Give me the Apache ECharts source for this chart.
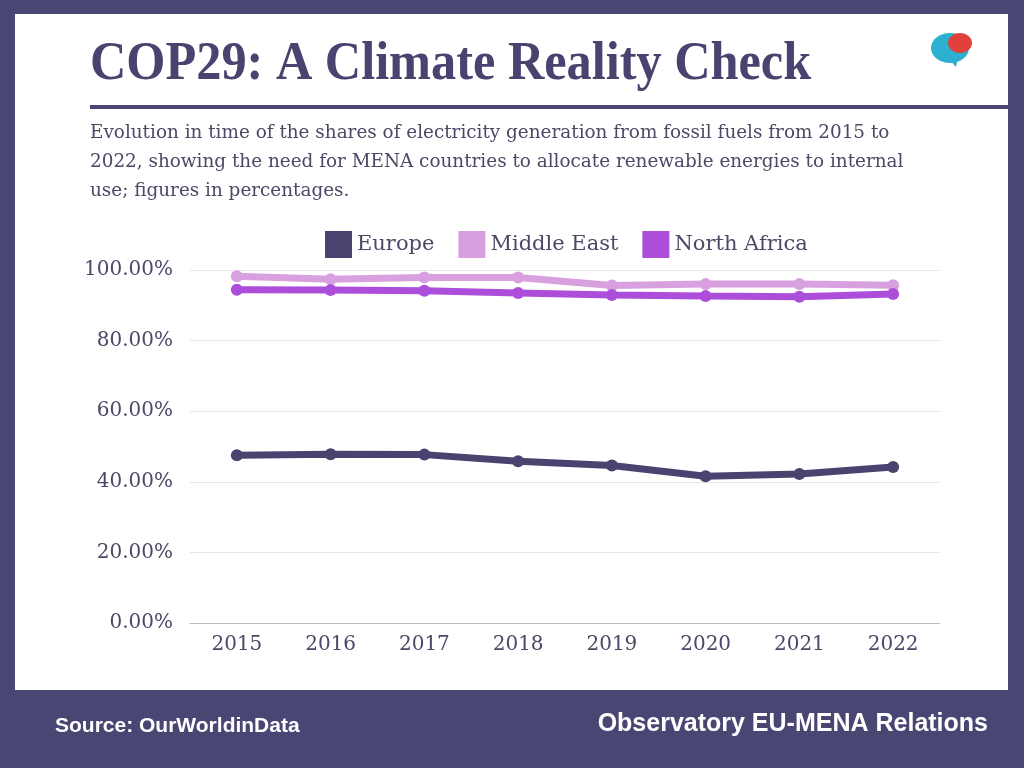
<!DOCTYPE html>
<html><head><meta charset="utf-8">
<script src="https://cdn.jsdelivr.net/npm/echarts@6/dist/echarts.min.js"></script>
<style>html,body{margin:0;padding:0;background:#4a4673;}#c{width:1024px;height:768px;}</style>
</head><body><div id="c"></div>
<script>
const years = ['2015','2016','2017','2018','2019','2020','2021','2022'];
const europe = [47.5, 47.8, 47.7, 45.8, 44.6, 41.6, 42.2, 44.2];
const middleEast = [98.2, 97.4, 97.9, 97.9, 95.6, 96.0, 96.0, 95.7];
const northAfrica = [94.4, 94.3, 94.1, 93.5, 92.9, 92.6, 92.4, 93.2];
const seriesNames = ['Europe', 'Middle East', 'North Africa'];
const colors = ['#48436f', '#d9a0e0', '#ad4edb'];

const chart = echarts.init(document.getElementById('c'));
const serif = '"Liberation Serif", serif';
const dserif = '"DejaVu Serif", serif';
const textGray = '#4b4965';
function mk(name, data, color) {
  return {
    name, type: 'line', data, color,
    symbol: 'circle', symbolSize: 12,
    lineStyle: { width: 7, color },
    itemStyle: { color },
    z: 3
  };
}
chart.setOption({
  backgroundColor: '#4a4673',
  animation: false,
  graphic: [
    { type: 'rect', shape: { x: 15, y: 14, width: 993, height: 676 }, style: { fill: '#ffffff' }, z: -10 },
    { type: 'rect', shape: { x: 90, y: 105, width: 918, height: 4 }, style: { fill: '#4a4673' } },
    { type: 'text', x: 90, y: 37, scaleX: 0.915, style: { text: 'COP29: A Climate Reality Check', font: 'bold 55px ' + serif, fill: '#48436f' } },
    { type: 'text', x: 90, y: 119, style: { text: 'Evolution in time of the shares of electricity generation from fossil fuels from 2015 to\n2022, showing the need for MENA countries to allocate renewable energies to internal\nuse; figures in percentages.', font: '18.4px ' + dserif, fill: textGray, lineHeight: 29 } },
    { type: 'ellipse', shape: { cx: 950, cy: 48, rx: 19, ry: 15 }, style: { fill: '#2bb0cf' } },
    { type: 'ellipse', shape: { cx: 960, cy: 43, rx: 12, ry: 10 }, style: { fill: '#e0413a' } },
    { type: 'polygon', shape: { points: [[948, 58], [958, 58], [956, 67]] }, style: { fill: '#2bb0cf' } },
    { type: 'text', x: 55, y: 716, style: { text: 'Source: OurWorldinData', font: 'bold 21px "Liberation Sans", Arial, sans-serif', fill: '#ffffff' } },
    { type: 'text', right: 36, top: 712, style: { text: 'Observatory EU-MENA Relations', font: 'bold 25px "Liberation Sans", Arial, sans-serif', fill: '#ffffff' } }
  ],
  legend: {
    data: seriesNames, top: 226, left: 320,
    icon: 'rect', itemWidth: 27, itemHeight: 27, itemGap: 24,
    textStyle: { fontFamily: dserif, fontSize: 21, color: textGray }
  },
  grid: { left: 190, right: 84, top: 270, bottom: 145 },
  xAxis: {
    type: 'category', data: years, boundaryGap: true,
    axisLine: { lineStyle: { color: '#bbbbbb' } },
    axisTick: { show: false },
    axisLabel: { fontFamily: dserif, fontSize: 20, color: textGray, margin: 12 }
  },
  yAxis: {
    type: 'value', min: 0, max: 100, interval: 20,
    axisLabel: { fontFamily: dserif, fontSize: 20, color: textGray, margin: 17, formatter: v => v.toFixed(2) + '%' },
    splitLine: { lineStyle: { color: '#e6e6e6' } },
    axisLine: { show: false }, axisTick: { show: false }
  },
  series: [
    mk(seriesNames[0], europe, colors[0]),
    mk(seriesNames[1], middleEast, colors[1]),
    mk(seriesNames[2], northAfrica, colors[2])
  ]
});
</script></body></html>
